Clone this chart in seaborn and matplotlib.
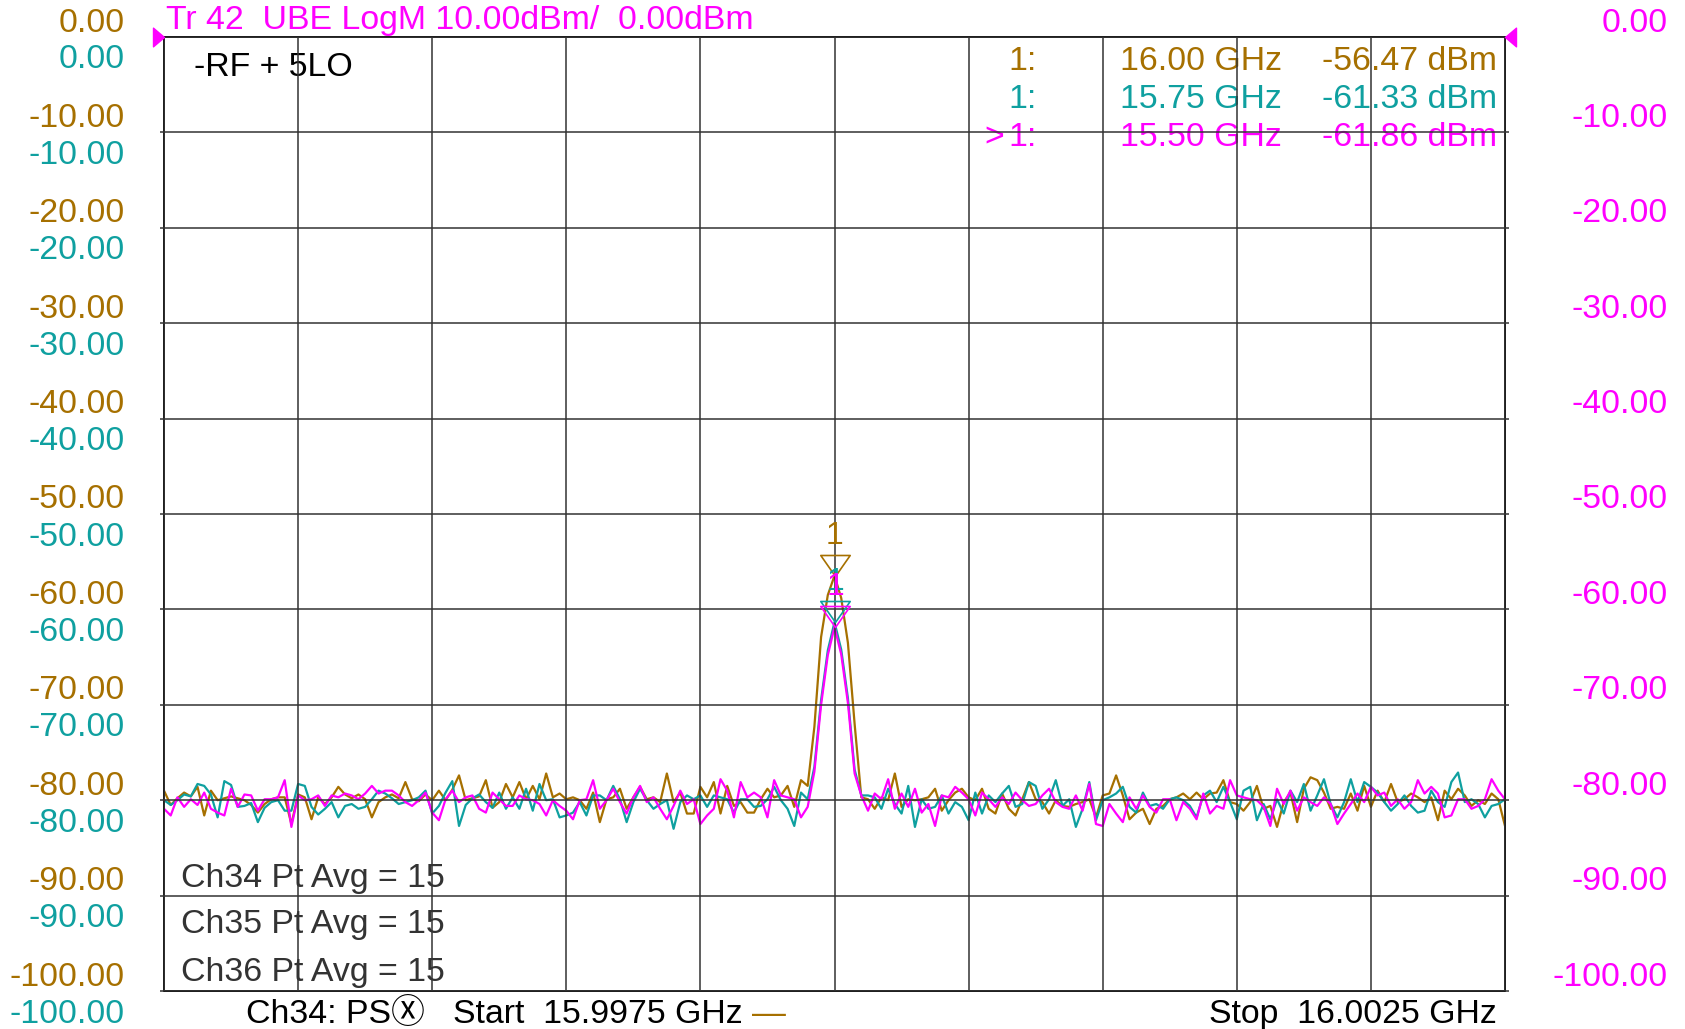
import numpy as np
import pandas as pd
import matplotlib
matplotlib.use("Agg")
import matplotlib.pyplot as plt
import matplotlib.transforms as mtransforms
from matplotlib.path import Path
import seaborn as sns

# ---------------- data ----------------
START_GHZ = 15.9975
STOP_GHZ = 16.0025
y_ticks = [0, -10, -20, -30, -40, -50, -60, -70, -80, -90, -100]
y_tick_labels = ["0.00", "-10.00", "-20.00", "-30.00", "-40.00", "-50.00",
                 "-60.00", "-70.00", "-80.00", "-90.00", "-100.00"]

channels = ["Ch34", "Ch35", "Ch36"]

ch34_db = [
    -79.0, -80.5, -79.8, -79.2, -79.6, -78.6, -81.6, -79.0, -80.0, -79.8,
    -79.6, -79.8, -80.0, -80.5, -81.3, -80.4, -79.9, -79.7, -79.7, -82.5,
    -79.4, -79.7, -82.0, -79.7, -80.4, -79.7, -78.6, -79.4, -79.8, -79.4,
    -79.9, -81.8, -80.2, -79.7, -79.4, -79.8, -78.1, -79.9, -80.1, -79.4,
    -80.0, -79.0, -80.0, -78.9, -77.4, -80.0, -79.8, -79.6, -77.9, -80.8, -80.2,
    -78.3, -79.7, -78.1, -79.9, -78.5, -79.9, -77.2, -79.7, -79.3, -79.9,
    -79.7, -80.0, -80.9, -79.2, -82.3, -79.9, -79.7, -78.8, -80.9, -79.7,
    -78.6, -79.9, -79.7, -80.2, -77.2, -80.2, -79.2, -81.4, -81.4, -78.6,
    -79.7, -78.1, -81.4, -78.5, -80.6, -80.2, -81.3, -81.3, -79.9, -78.8,
    -79.7, -79.5, -78.5, -80.7, -77.9, -78.5,
    -72.3, -62.9, -58.5, -56.47, -58.8, -63.5, -72.0,
    -79.7, -79.9, -80.9, -79.7, -80.0, -77.2, -80.7, -79.9, -80.0, -79.9,
    -79.7, -78.8, -81.1, -80.0, -79.2, -78.8, -79.7, -80.0, -78.8, -80.9,
    -81.4, -79.3, -80.9, -81.6, -79.9, -78.1, -79.9, -80.2, -81.4, -80.0,
    -80.6, -80.7, -80.4, -80.2, -79.9, -81.8, -79.5, -79.3, -77.4, -79.5,
    -82.0, -81.3, -80.9, -82.5, -80.9, -80.6, -79.9,
    -79.7, -79.3, -79.9, -79.2, -79.9, -79.3, -79.2, -77.9, -80.2, -80.4,
    -81.1, -80.2, -78.5, -80.9, -80.6, -82.8, -80.2, -79.2, -82.3, -78.8,
    -77.6, -77.9, -79.2, -80.9, -80.7, -80.9, -79.3, -81.1, -78.5, -80.7,
    -79.0, -80.2, -78.3, -80.2, -79.9, -79.3, -79.7, -80.2, -79.7, -82.1,
    -79.0, -79.9, -78.8, -79.5, -80.6, -80.0, -80.4, -79.3, -79.9, -82.7,
]

ch35_db = [
    -80.0, -80.5, -80.0, -79.4, -79.6, -78.3, -78.5, -79.4, -81.8, -78.0,
    -78.4, -80.7, -80.6, -80.3, -82.3, -80.8, -80.2, -80.0, -81.1, -81.1,
    -78.3, -78.5, -80.7, -81.5, -80.9, -80.2, -81.8, -80.6, -80.4, -80.9,
    -80.7, -79.9, -79.0, -79.3, -79.8, -80.4, -80.2, -80.0, -79.7, -79.0,
    -81.4, -80.6, -79.2, -78.0, -82.7, -80.5, -79.8, -79.4, -80.2, -80.8, -79.2,
    -80.9, -79.7, -80.9, -78.8, -81.1, -78.3, -80.0, -79.9, -81.8, -81.6,
    -81.3, -80.2, -81.6, -79.5, -79.5, -80.0, -78.5, -79.9, -82.3, -80.2,
    -78.8, -80.0, -80.9, -80.4, -80.0, -83.0, -80.2, -79.5, -79.9, -79.5,
    -80.7, -79.5, -79.7, -79.9, -81.3, -79.9, -79.9, -80.7, -80.6, -79.9,
    -78.6, -80.0, -80.9, -82.7, -79.2, -79.9,
    -76.5, -69.5, -64.3, -61.33, -64.2, -69.3, -76.8,
    -79.5, -79.5, -79.7, -80.9, -78.8, -80.4, -81.4, -78.5, -82.8, -79.9,
    -80.9, -80.7, -79.5, -81.4, -80.2, -80.7, -82.1, -79.2, -81.4, -79.5,
    -80.2, -79.3, -78.5, -80.7, -80.4, -78.1, -78.5, -80.9, -79.9, -77.9,
    -80.6, -79.9, -82.8, -80.9, -78.1, -82.1, -80.0, -79.7, -79.3, -78.6,
    -80.7, -81.3, -79.2, -80.6, -80.4, -80.9, -79.9,
    -79.7, -80.0, -80.6, -81.8, -79.5, -79.0, -80.2, -78.6, -80.2, -82.0,
    -79.0, -78.6, -82.1, -80.4, -82.0, -79.9, -81.4, -79.0, -80.2, -78.3,
    -81.1, -79.5, -77.8, -80.4, -81.8, -80.2, -77.8, -80.2, -78.1, -78.6,
    -79.2, -80.2, -81.1, -80.4, -79.5, -80.6, -81.3, -81.1, -79.0, -80.2,
    -80.7, -78.1, -77.1, -80.2, -79.9, -80.4, -81.8, -80.6, -80.4, -79.9,
]

ch36_db = [
    -80.9, -81.6, -79.7, -80.7, -79.9, -80.5, -79.2, -80.9, -81.3, -81.6,
    -78.8, -80.7, -79.4, -79.5, -81.1, -79.9, -79.9, -79.7, -77.9, -82.8,
    -79.5, -80.0, -79.9, -79.5, -80.6, -79.5, -79.7, -79.3, -79.5, -79.9,
    -79.3, -78.5, -79.3, -79.0, -79.0, -79.5, -80.2, -80.6, -80.0, -79.2,
    -81.3, -82.1, -79.9, -79.0, -80.2, -79.7, -79.5, -80.9, -81.3, -79.2, -79.9,
    -80.6, -80.6, -79.5, -79.9, -80.0, -80.4, -81.6, -80.0, -80.6, -81.1,
    -82.0, -80.0, -79.9, -77.9, -80.9, -80.0, -78.8, -80.2, -81.4, -79.7,
    -78.5, -80.2, -79.7, -80.9, -82.0, -80.6, -79.0, -80.4, -79.9, -82.5,
    -81.6, -80.9, -77.8, -79.0, -81.8, -78.1, -79.7, -79.2, -79.7, -81.8,
    -77.9, -79.5, -79.7, -79.9, -81.8, -80.7,
    -77.0, -70.0, -64.8, -61.86, -64.7, -69.8, -77.2,
    -79.5, -81.1, -79.3, -79.9, -77.8, -80.9, -79.3, -80.7, -78.8, -81.3,
    -80.4, -82.7, -79.5, -79.7, -78.6, -79.2, -79.9, -81.6, -79.2, -79.9,
    -80.7, -79.7, -80.4, -79.2, -80.0, -80.6, -80.4, -79.5, -78.8, -80.2,
    -80.7, -80.9, -79.5, -81.1, -78.3, -82.5, -82.7, -80.4, -81.4, -82.3,
    -79.7, -80.9, -79.5, -80.7, -81.3, -79.9, -79.9,
    -82.1, -80.2, -80.9, -82.0, -79.3, -81.4, -80.6, -80.9, -77.9, -79.5,
    -79.7, -79.9, -80.0, -80.7, -82.7, -78.8, -80.4, -79.0, -81.1, -79.7,
    -80.2, -80.6, -79.7, -80.4, -82.5, -81.4, -80.4, -79.3, -80.2, -78.6,
    -79.5, -79.2, -80.6, -79.9, -80.9, -80.2, -77.9, -79.3, -78.6, -79.3,
    -81.8, -81.6, -79.9, -79.9, -80.9, -80.6, -79.9, -77.8, -79.0, -79.9,
]

marker_index = 100
marker_freq_labels = ["16.00 GHz", "15.75 GHz", "15.50 GHz"]
marker_value_labels = ["-56.47 dBm", "-61.33 dBm", "-61.86 dBm"]
avg_labels = ["Ch34 Pt Avg = 15", "Ch35 Pt Avg = 15", "Ch36 Pt Avg = 15"]

# ---------------- style ----------------
BROWN = "#A67000"
TEAL = "#0FA0A0"
MAGENTA = "#FF00FF"
GRID = "#333333"
colors = [BROWN, TEAL, MAGENTA]

sns.set_style("white")
FAMILIES = ["Liberation Sans", "DejaVu Sans", "Noto Sans CJK SC"]
plt.rcParams["font.family"] = FAMILIES
FS = 24.4

W, H = 1685, 1029
fig = plt.figure(figsize=(W / 100, H / 100), dpi=100)
L, R, T, B = 164, 1505, 37, 991
ax = fig.add_axes([L / W, 1 - B / H, (R - L) / W, (B - T) / H])

frames = []
for ch, vals in zip(channels, [ch34_db, ch35_db, ch36_db]):
    f = np.linspace(START_GHZ, STOP_GHZ, len(vals))
    frames.append(pd.DataFrame({"freq": f, "dB": vals, "channel": ch}))
df = pd.concat(frames, ignore_index=True)

sns.lineplot(data=df, x="freq", y="dB", hue="channel", palette=colors,
             estimator=None, legend=False, ax=ax, linewidth=1.6, zorder=2)

ax.set_xlim(START_GHZ, STOP_GHZ)
ax.set_ylim(-100, 0)
ax.set_xticks(np.linspace(START_GHZ, STOP_GHZ, 11))
ax.set_yticks(y_ticks)
ax.set_xticklabels([])
ax.set_yticklabels([])
ax.set_xlabel("")
ax.set_ylabel("")
ax.grid(True, color=GRID, linewidth=1.1)
ax.set_axisbelow(False)
ax.tick_params(axis="y", which="both", left=True, right=True, direction="out",
               length=3, width=1.1, color=GRID)
ax.tick_params(axis="x", bottom=False)
for s in ax.spines.values():
    s.set_color("#1a1a1a")
    s.set_linewidth(1.4)

# ---------------- y labels ----------------
px = 72 / 100  # points per pixel
left_tr = mtransforms.blended_transform_factory(fig.transFigure, ax.transData)
brown_tr = mtransforms.offset_copy(left_tr, fig=fig, x=0, y=5.5, units="dots")
teal_tr = mtransforms.offset_copy(left_tr, fig=fig, x=0, y=-31.5, units="dots")
for v, lab in zip(y_ticks, y_tick_labels):
    ax.text(125 / W, v, lab, transform=brown_tr, ha="right", va="baseline",
            color=BROWN, fontsize=FS, clip_on=False)
    ax.text(125 / W, v, lab, transform=teal_tr, ha="right", va="baseline",
            color=TEAL, fontsize=FS, clip_on=False)
    ax.text(1668 / W, v, lab, transform=brown_tr, ha="right", va="baseline",
            color=MAGENTA, fontsize=FS, clip_on=False)

# ---------------- texts ----------------
def fx(x):
    return x / W

def fy(y):
    return 1 - y / H

ax.text(fx(166), fy(28.5), "Tr 42  UBE LogM 10.00dBm/  0.00dBm",
        transform=fig.transFigure, color=MAGENTA, fontsize=FS, va="baseline",
        ha="left", clip_on=False)
ax.text(fx(194), fy(76), "-RF + 5LO", transform=fig.transFigure, color="black",
        fontsize=FS, va="baseline", ha="left", zorder=1)

row_base = [70, 108, 145.5]
for i in range(3):
    ax.text(fx(1037), fy(row_base[i]), "1:", transform=fig.transFigure,
            color=colors[i], fontsize=FS, ha="right", va="baseline", zorder=1)
    ax.text(fx(1282), fy(row_base[i]), marker_freq_labels[i],
            transform=fig.transFigure, color=colors[i], fontsize=FS,
            ha="right", va="baseline", zorder=1)
    ax.text(fx(1497), fy(row_base[i]), marker_value_labels[i],
            transform=fig.transFigure, color=colors[i], fontsize=FS,
            ha="right", va="baseline", zorder=1)
ax.text(fx(984), fy(row_base[2]), ">", transform=fig.transFigure,
        color=MAGENTA, fontsize=FS, ha="left", va="baseline", zorder=1)

avg_base = [886.5, 933.5, 981.5]
for lab, yb in zip(avg_labels, avg_base):
    ax.text(fx(181), fy(yb), lab, transform=fig.transFigure, color="#333333",
            fontsize=FS, ha="left", va="baseline", zorder=1)

fig.text(fx(246), fy(1023), "Ch34: PS\u24CD   Start  15.9975 GHz",
         color="black", fontsize=FS, ha="left", va="baseline",
         family=["Liberation Sans", "Noto Sans CJK SC", "DejaVu Sans"])
fig.text(fx(752), fy(1023), "\u2014", color=BROWN, fontsize=FS,
         ha="left", va="baseline")
fig.text(fx(1497), fy(1023), "Stop  16.0025 GHz", color="black",
         fontsize=FS, ha="right", va="baseline")

# ---------------- markers ----------------
tri_down = Path([(0, 0), (-0.7, 1), (0.7, 1), (0, 0)],
                [Path.MOVETO, Path.LINETO, Path.LINETO, Path.CLOSEPOLY])
ms_tri = 42 * px
for i, vals in enumerate([ch34_db, ch35_db, ch36_db]):
    f = np.linspace(START_GHZ, STOP_GHZ, len(vals))
    xm, ym = f[marker_index], vals[marker_index]
    ax.plot([xm], [ym], marker=tri_down, markersize=ms_tri,
            markerfacecolor="none", markeredgecolor=colors[i],
            markeredgewidth=1.2, linestyle="none", zorder=3)
    ax.annotate("1", (xm, ym), xytext=(1 if i else 0, 32 * px),
                textcoords="offset points", ha="center", va="baseline",
                color=colors[i], fontsize=23, zorder=4)

# reference-level arrows at left / right edges
tri_right = Path([(0, 0), (-1, 0.85), (-1, -0.85), (0, 0)],
                 [Path.MOVETO, Path.LINETO, Path.LINETO, Path.CLOSEPOLY])
tri_left = Path([(0, 0), (1, 0.85), (1, -0.85), (0, 0)],
                [Path.MOVETO, Path.LINETO, Path.LINETO, Path.CLOSEPOLY])
ax.plot([START_GHZ], [0], marker=tri_right, markersize=22 * px,
        color=MAGENTA, linestyle="none", clip_on=False, zorder=5)
ax.plot([STOP_GHZ], [0], marker=tri_left, markersize=22 * px,
        color=MAGENTA, linestyle="none", clip_on=False, zorder=5)

fig.savefig("out.png", dpi=100, facecolor="white")
